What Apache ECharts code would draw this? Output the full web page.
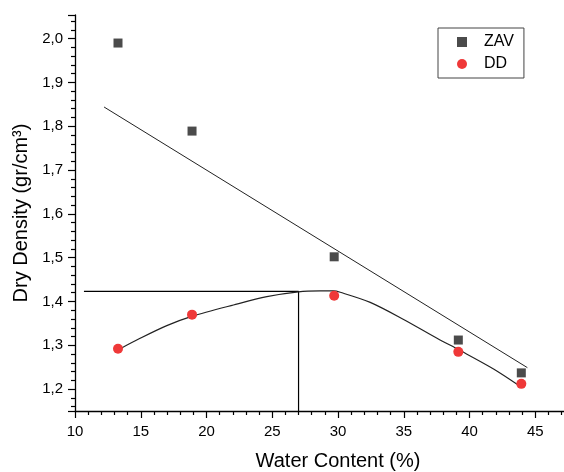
<!DOCTYPE html>
<html>
<head>
<meta charset="utf-8">
<script src="https://cdn.jsdelivr.net/npm/echarts@6/dist/echarts.min.js"></script>
<style>
html,body{margin:0;padding:0;background:#fff;}
#chart{width:564px;height:472px;}
</style>
</head>
<body>
<div id="chart"></div>
<script>
// Measured points
const zavX = [13.27, 18.90, 29.71, 39.15, 43.94];
const zavY = [1.990, 1.789, 1.502, 1.312, 1.237];
const ddX = [13.27, 18.90, 29.71, 39.15, 43.94];
const ddY = [1.292, 1.370, 1.413, 1.285, 1.212];
// Straight trend line drawn through the ZAV points (endpoints)
const zavLineX = [12.21, 44.40];
const zavLineY = [1.844, 1.249];
// Fitted DD curve
const ddCurveX = [13.30, 14.95, 16.98, 18.88, 22.05, 24.59, 26.99, 28.65, 29.66, 30.17, 32.45, 34.99, 37.53, 39.30, 41.83, 43.87];
const ddCurveY = [1.290, 1.316, 1.345, 1.366, 1.392, 1.411, 1.422, 1.424, 1.424, 1.421, 1.398, 1.359, 1.316, 1.288, 1.246, 1.206];
// Optimum water content / max dry density guide lines
const optX = [10.68, 27.0, 27.0];
const optY = [1.423, 1.423, 1.15];

const zip = (xs, ys) => xs.map((x, i) => [x, ys[i]]);
const fmt = v => {
  if (Math.abs(v * 10 - Math.round(v * 10)) > 1e-6) return '';
  return v.toFixed(1).replace('.', ',');
};
const font = 'Liberation Sans, Arial, sans-serif';

const chart = echarts.init(document.getElementById('chart'), null, {renderer: 'canvas'});
chart.setOption({
  animation: false,
  backgroundColor: '#fff',
  grid: {left: 75, top: 15, bottom: 61, right: -37, containLabel: false, outerBoundsMode: 'none'},
  legend: {
    data: ['ZAV', 'DD'],
    orient: 'vertical',
    left: 438, top: 28,
    padding: [6, 10, 6, 19],
    itemGap: 6,
    itemWidth: 10, itemHeight: 10,
    borderColor: '#444', borderWidth: 1,
    selectedMode: false,
    textStyle: {fontFamily: font, fontSize: 16, color: '#000', padding: [0, 0, 0, 12]}
  },
  xAxis: {
    type: 'value', min: 10, max: 50, interval: 5,
    name: 'Water Content (%)', nameLocation: 'middle', nameGap: 40,
    nameTextStyle: {fontFamily: font, fontSize: 20, color: '#000'},
    axisLine: {show: true, onZero: false, lineStyle: {color: '#000', width: 1.3}},
    axisTick: {show: true, inside: false, length: 7, lineStyle: {color: '#000', width: 1.2}},
    minorTick: {show: true, splitNumber: 5, length: 4, lineStyle: {color: '#000', width: 1.2}},
    axisLabel: {fontFamily: font, fontSize: 15, color: '#000', margin: 13},
    splitLine: {show: false}
  },
  yAxis: {
    type: 'value', min: 1.15, max: 2.054, splitNumber: 9,
    name: 'Dry Density (gr/cm³)', nameLocation: 'middle', nameGap: 37, nameRotate: 90,
    nameTextStyle: {fontFamily: font, fontSize: 20, color: '#000'},
    axisLine: {show: true, onZero: false, lineStyle: {color: '#000', width: 1.3}},
    axisTick: {show: true, inside: false, length: 7, lineStyle: {color: '#000', width: 1.2}},
    minorTick: {show: true, splitNumber: 5, length: 4, lineStyle: {color: '#000', width: 1.2}},
    axisLabel: {fontFamily: font, fontSize: 15, color: '#000', margin: 12, formatter: fmt},
    splitLine: {show: false}
  },
  series: [
    {
      name: 'optimum', type: 'line', data: zip(optX, optY), symbol: 'none',
      lineStyle: {color: '#000', width: 1.2}, silent: true, z: 1
    },
    {
      name: 'ZAV fit', type: 'line', data: zip(zavLineX, zavLineY), symbol: 'none',
      lineStyle: {color: '#222', width: 1}, silent: true, z: 1
    },
    {
      name: 'DD fit', type: 'line', data: zip(ddCurveX, ddCurveY), symbol: 'none', smooth: 0.3,
      lineStyle: {color: '#222', width: 1.2}, silent: true, z: 1
    },
    {
      name: 'ZAV', type: 'scatter', data: zip(zavX, zavY), symbol: 'rect', symbolSize: 9,
      itemStyle: {color: '#4b4b4b', opacity: 1}, z: 3
    },
    {
      name: 'DD', type: 'scatter', data: zip(ddX, ddY), symbol: 'circle', symbolSize: 10,
      itemStyle: {color: '#ef3838', opacity: 1}, z: 3
    }
  ]
});
</script>
</body>
</html>
